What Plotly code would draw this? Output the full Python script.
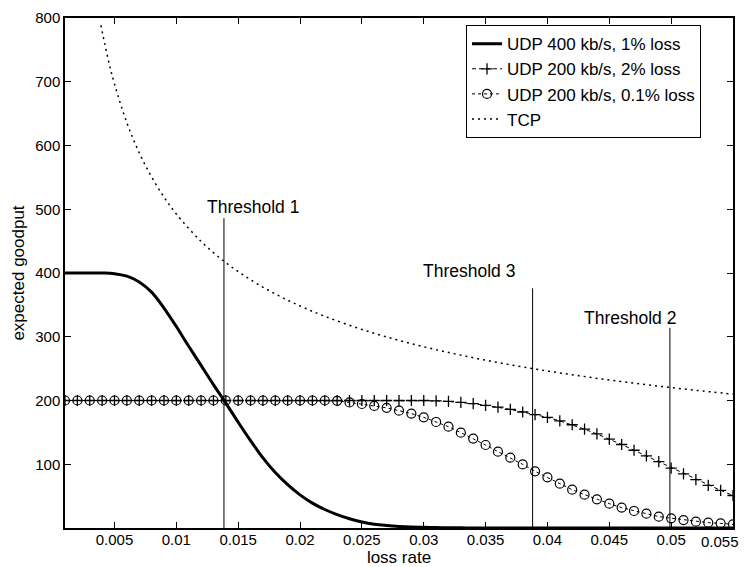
import plotly.graph_objects as go

loss = [round(0.001 * i, 3) for i in range(1, 56)]

udp400 = [400, 400, 400, 400, 399, 395, 386, 370, 345, 316,
          285, 255, 225, 196, 166, 137, 110, 87, 68, 52,
          39, 29, 21, 14.5, 9.5, 6, 4, 2.5, 1.5, 1,
          0.6, 0.4, 0.2, 0.1, 0, 0, 0, 0, 0, 0,
          0, 0, 0, 0, 0, 0, 0, 0, 0, 0,
          0, 0, 0, 0, 0]

udp200_2 = [200] * 30 + [199.5, 198.5, 197, 195, 192.5, 189.5, 186, 182, 178, 173.5,
                         168, 162, 155, 147.5, 139.5, 131, 122, 113, 104, 94,
                         85, 76, 67, 59, 51]

udp200_01 = [200] * 22 + [199.5, 197, 194.5, 191.5, 188.5, 184, 179.5, 173.6, 166.3, 159,
                          149.6, 140.2, 130.2, 119.7, 110.3, 99.8, 88.9, 79.5, 69.5, 60.1,
                          52.3, 45, 38.2, 31.9, 26.7, 22.5, 17.8, 15.2, 12.5, 9.9,
                          8.4, 7.3, 5.7]

tcp_x = [0.0039, 0.0045, 0.005, 0.006, 0.007, 0.008, 0.009, 0.010, 0.012, 0.014,
         0.016, 0.018, 0.020, 0.022, 0.025, 0.028, 0.031, 0.034, 0.037, 0.040,
         0.043, 0.046, 0.049, 0.052, 0.055]
tcp_y = [788.6, 734.2, 696.5, 635.8, 588.6, 550.6, 519.1, 492.5, 449.6, 416.2,
         389.4, 367.1, 348.3, 332.1, 311.5, 294.3, 279.7, 267.1, 256.0, 246.3,
         237.5, 229.6, 222.5, 216.0, 210.0]

thr_names = ["Threshold 1", "Threshold 3", "Threshold 2"]
thr_x = [0.01385, 0.0388, 0.0499]
thr_top = [486, 376, 314]
thr_label_x = [0.0162, 0.03366, 0.04667]
thr_label_y = [503, 403, 329]

x_ticks = [0.005, 0.01, 0.015, 0.02, 0.025, 0.03, 0.035, 0.04, 0.045, 0.05, 0.055]
x_tick_text = ["0.005", "0.01", "0.015", "0.02", "0.025", "0.03", "0.035", "0.04", "0.045", "0.05", "0.055"]
y_ticks = [100, 200, 300, 400, 500, 600, 700, 800]

FONT = "Liberation Sans, Arial, Helvetica, sans-serif"

fig = go.Figure()
fig.add_trace(go.Scatter(x=loss, y=udp400, mode="lines", name="UDP 400 kb/s, 1% loss",
                         line=dict(color="black", width=3, shape="spline")))
fig.add_trace(go.Scatter(x=loss, y=udp200_2, mode="lines+markers", name="UDP 200 kb/s, 2% loss",
                         line=dict(color="black", width=1, dash="4px,3px"),
                         marker=dict(symbol="cross-thin-open", size=8, color="black",
                                     line=dict(color="black", width=1.3))))
fig.add_trace(go.Scatter(x=loss, y=udp200_01, mode="lines+markers", name="UDP 200 kb/s, 0.1% loss",
                         line=dict(color="black", width=1, dash="dot"),
                         marker=dict(symbol="circle-open", size=9, color="black",
                                     line=dict(color="black", width=1.2))))
fig.add_trace(go.Scatter(x=tcp_x, y=tcp_y, mode="lines", name="TCP",
                         line=dict(color="black", width=1.5, dash="2px,4px", shape="spline")))

for i in range(len(thr_x)):
    fig.add_trace(go.Scatter(x=[thr_x[i], thr_x[i]], y=[0, thr_top[i]], mode="lines",
                             showlegend=False, line=dict(color="black", width=1)))
    fig.add_annotation(x=thr_label_x[i], y=thr_label_y[i], text=thr_names[i], showarrow=False,
                       font=dict(size=17.5, color="black", family=FONT))

# last x tick label sits at the right edge; draw it right-aligned so it stays inside the page
shown_tick_text = x_tick_text[:-1] + [""]
fig.add_annotation(x=x_ticks[-1], y=0, xref="x", yref="y", text=x_tick_text[-1], showarrow=False,
                   xanchor="right", yanchor="top", xshift=8, yshift=-3,
                   font=dict(size=15, color="black", family=FONT))

axis_common = dict(showline=True, linecolor="black", linewidth=1.5, mirror="ticks",
                   ticks="inside", ticklen=6, tickwidth=1, tickcolor="black",
                   showgrid=False, zeroline=False, automargin=False,
                   tickfont=dict(size=15, color="black", family=FONT))

fig.update_xaxes(range=[0.001, 0.0550001], tickvals=x_ticks, ticktext=shown_tick_text,
                 ticklabelstandoff=-3,
                 title=dict(text="loss rate", font=dict(size=17, color="black", family=FONT), standoff=6),
                 **axis_common)
fig.update_yaxes(range=[0, 800], tickvals=y_ticks,
                 title=dict(text="expected goodput", font=dict(size=17, color="black", family=FONT), standoff=6),
                 **axis_common)

# page body adds an 8px offset; the figure is sized so that it fills the 750x567 window
fig.update_layout(
    width=742, height=559,
    margin=dict(l=57, r=17, t=10, b=39),
    plot_bgcolor="white", paper_bgcolor="white",
    font=dict(family=FONT, color="black"),
    legend=dict(x=0.6003, y=0.986, xanchor="left", yanchor="top",
                bgcolor="white", bordercolor="black", borderwidth=1,
                font=dict(size=17, color="black", family=FONT),
                itemwidth=30, tracegroupgap=0),
)

fig.write_html("out.html")
